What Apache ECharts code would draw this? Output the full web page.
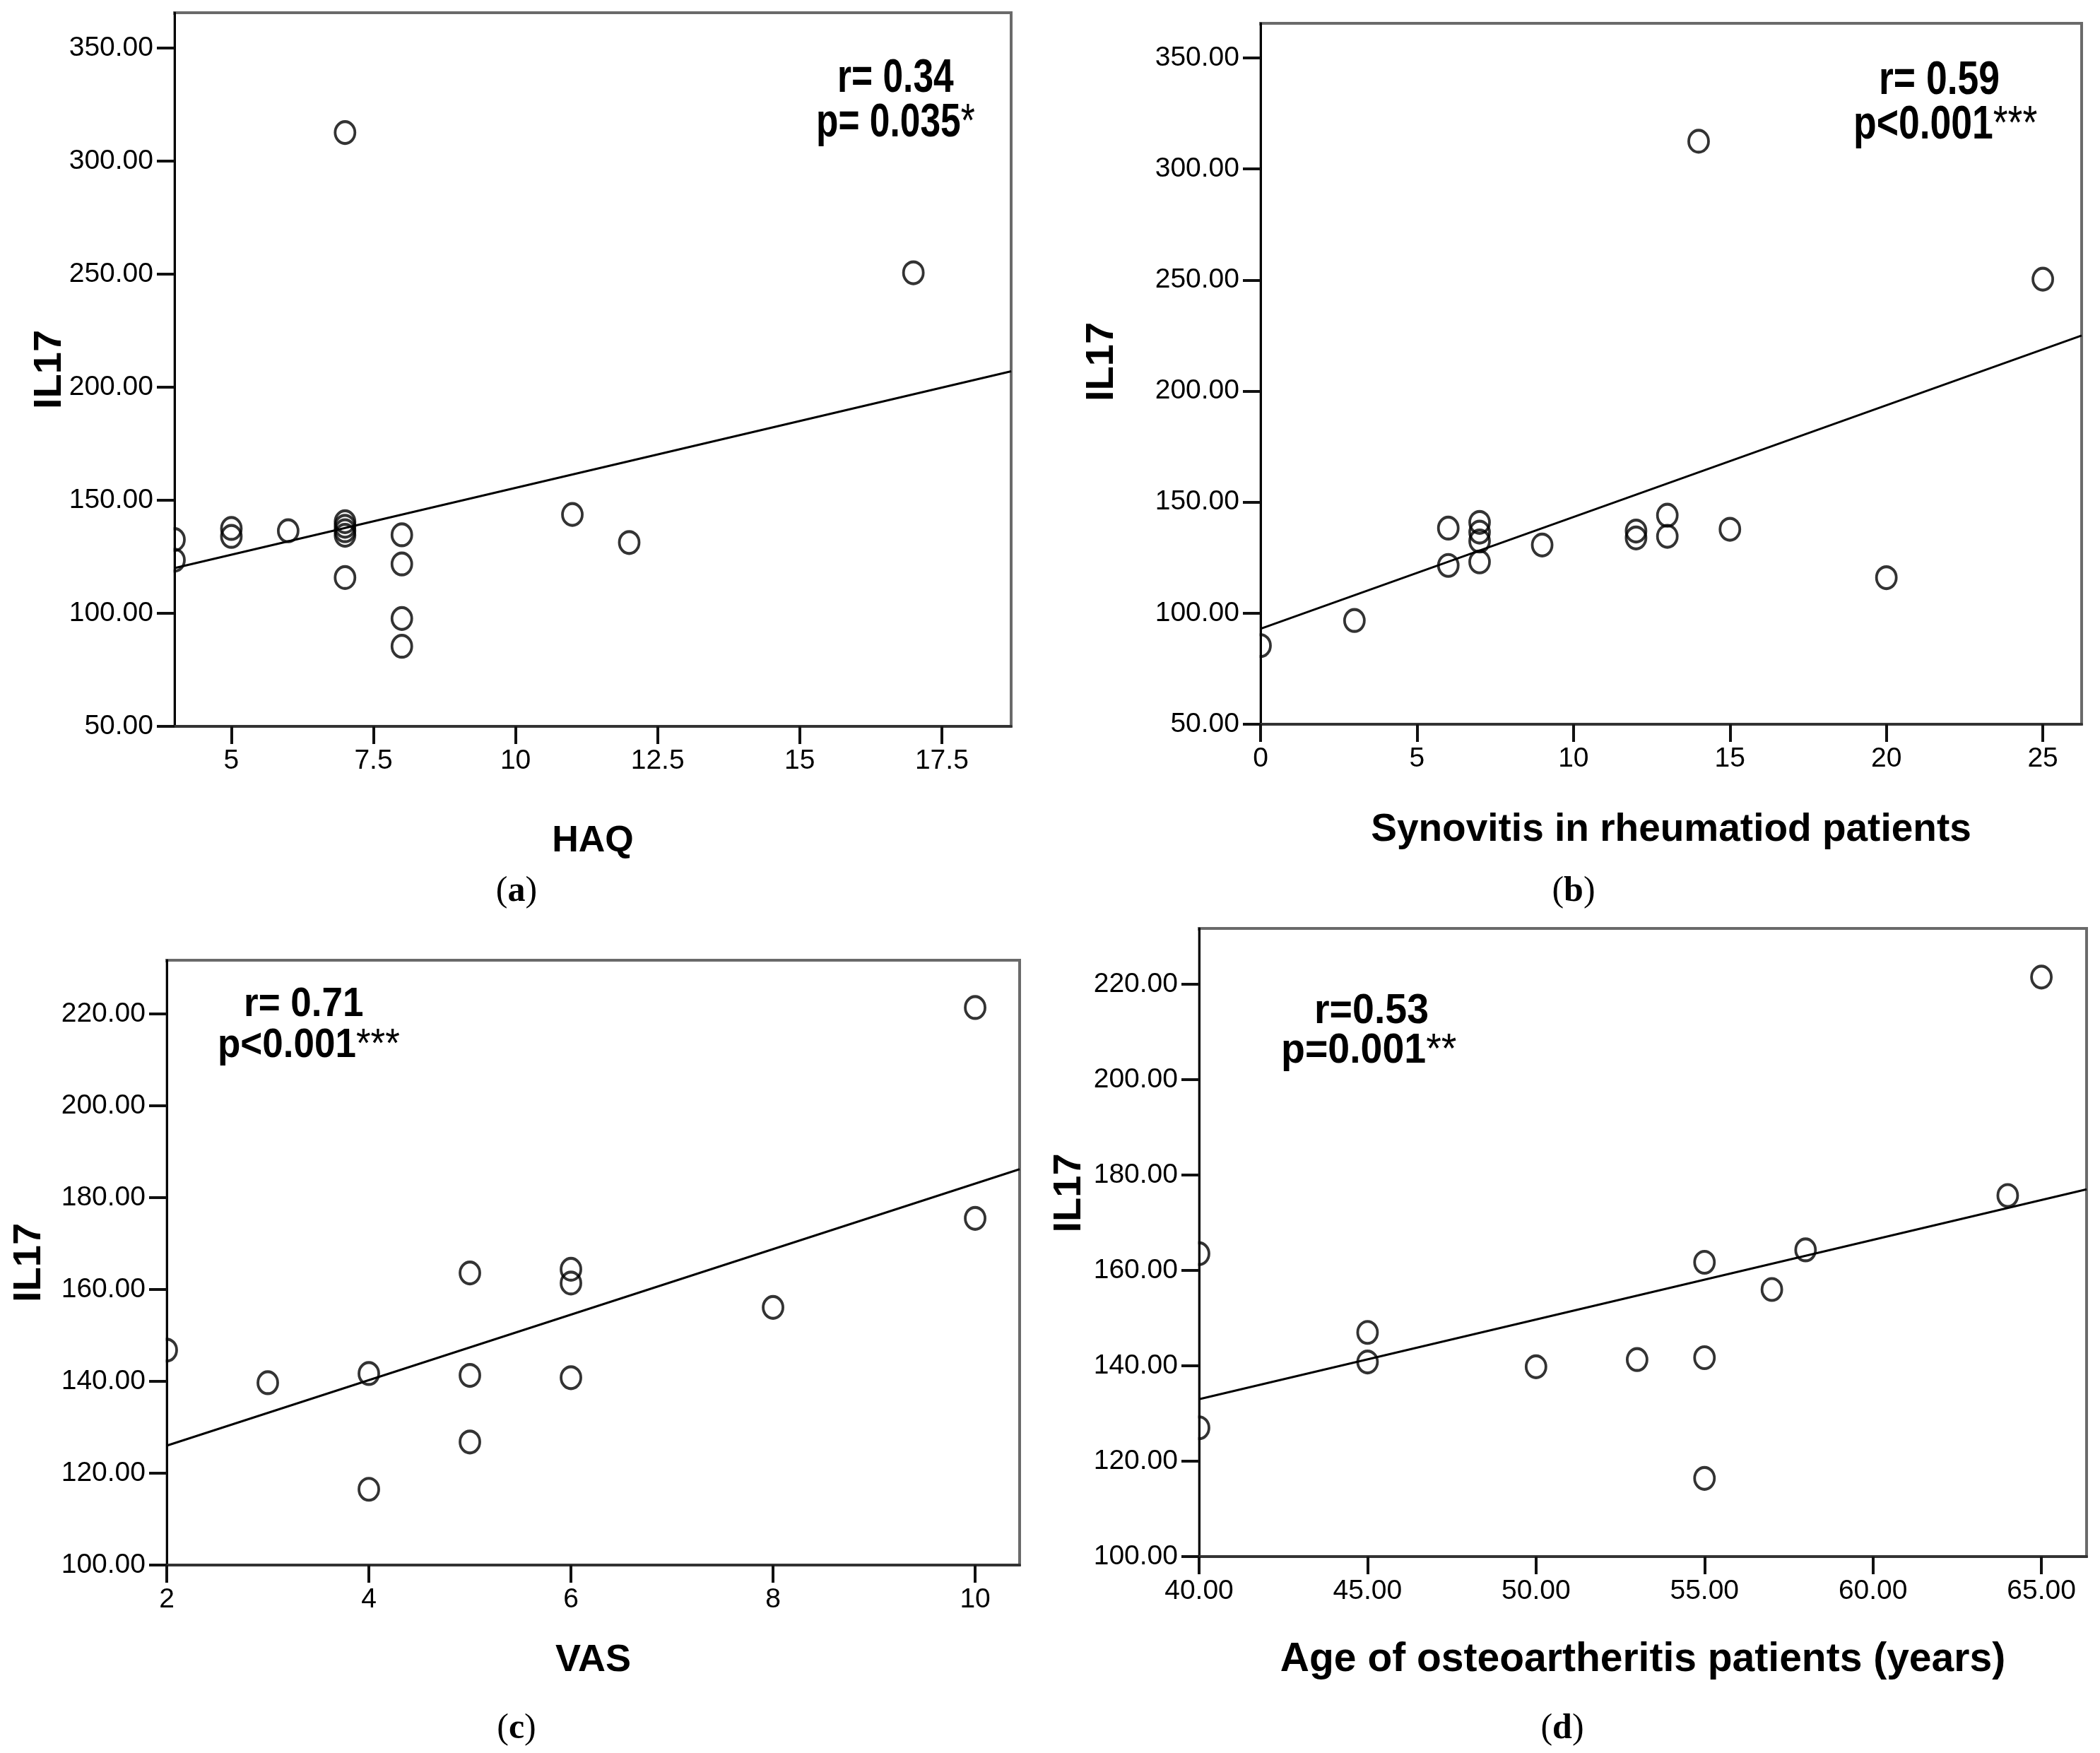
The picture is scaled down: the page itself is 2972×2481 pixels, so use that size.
<!DOCTYPE html>
<html>
<head>
<meta charset="utf-8">
<script src="https://cdn.jsdelivr.net/npm/echarts@6/dist/echarts.min.js"></script>
<style>
html,body{margin:0;padding:0;background:#ffffff;}
#chart{width:2972px;height:2481px;}
</style>
</head>
<body>
<div id="chart"></div>
<script>
// ---------- data ----------
// (a) HAQ vs IL17
const haqX = [4, 4, 5, 5, 6, 7, 7, 7, 7, 7, 7, 8, 8, 8, 8, 11, 12, 17];
const haqY = [132.6, 123.5, 137.5, 134.0, 136.5, 312.6, 140.5, 138.5, 136.5, 134.5, 115.8, 134.7, 121.8, 97.7, 85.4, 143.7, 131.3, 250.6];
const haqFit = [[4, 120.0], [18.72, 207.0]];
// (b) Synovitis vs IL17
const synX = [0, 3, 6, 6, 7, 7, 7, 7, 9, 12, 12, 13, 13, 14, 15, 20, 25];
const synY = [85.4, 96.7, 138.3, 121.5, 140.9, 136.5, 132.5, 123.1, 130.7, 137.0, 133.9, 144.1, 134.6, 312.5, 137.8, 116.0, 250.4];
const synFit = [[0, 93.0], [26.24, 225.0]];
// (c) VAS vs IL17
const vasX = [2, 3, 4, 4, 5, 5, 5, 6, 6, 6, 8, 10, 10];
const vasY = [146.8, 139.7, 141.7, 116.5, 163.6, 141.3, 126.8, 164.4, 161.4, 140.8, 156.1, 221.4, 175.5];
const vasFit = [[2, 126.0], [10.44, 186.2]];
// (d) Age vs IL17
const ageX = [40, 40, 45, 45, 50, 53, 55, 55, 55, 57, 58, 64, 65];
const ageY = [163.5, 127.0, 147.0, 140.8, 139.8, 141.3, 161.7, 141.7, 116.4, 156.0, 164.3, 175.7, 221.5];
const ageFit = [[40, 133.0], [66.34, 177.0]];

// axis ranges and ticks
const xRangeA = [4, 18.72], xRangeB = [0, 26.24], xRangeC = [2, 10.44], xRangeD = [40, 66.34];
const yRangeRA = [50, 365.6], yRangeOA = [100, 231.7];
const xTicksA = [5, 7.5, 10, 12.5, 15, 17.5];
const xTicksB = [0, 5, 10, 15, 20, 25];
const xTicksC = [2, 4, 6, 8, 10];
const xTicksD = [40, 45, 50, 55, 60, 65];
const yTicksRA = [50, 100, 150, 200, 250, 300, 350];
const yTicksOA = [100, 120, 140, 160, 180, 200, 220];

// texts
const xTitles = ['HAQ', 'Synovitis in rheumatiod patients', 'VAS', 'Age of osteoartheritis patients (years)'];
const yTitle = 'IL17';
const rTexts = ['r= 0.34', 'r= 0.59', 'r= 0.71', 'r=0.53'];
const pTexts = ['p= 0.035', 'p<0.001', 'p<0.001', 'p=0.001'];
const pStars = ['*', '***', '***', '**'];
const captions = ['a', 'b', 'c', 'd'];

// ---------- layout / style ----------
const SANS = "'Liberation Sans',Arial,Helvetica,sans-serif";
const SERIF = "'Liberation Serif','Times New Roman',serif";

const panels = [
  {g: [247, 18, 1184, 1010], x: haqX, y: haqY, fit: haqFit, xr: xRangeA, yr: yRangeRA, xt: xTicksA, yt: yTicksRA,
   xf: v => String(v), xNameSize: 52, xNameGap: 137, yNameGap: 148, yPad: 0,
   r: [1185, 112], p: [1155, 175], fs: 51.5, sy: 1.28, cap: [731, 1262]},
  {g: [1784, 33, 1162, 992], x: synX, y: synY, fit: synFit, xr: xRangeB, yr: yRangeRA, xt: xTicksB, yt: yTicksRA,
   xf: v => String(v), xNameSize: 55, xNameGap: 122, yNameGap: 196, yPad: 34,
   r: [2659, 114], p: [2623, 177], fs: 53.5, sy: 1.26, cap: [2227, 1262]},
  {g: [236, 1359, 1207, 856], x: vasX, y: vasY, fit: vasFit, xr: xRangeC, yr: yRangeOA, xt: xTicksC, yt: yTicksOA,
   xf: v => String(v), xNameSize: 54, xNameGap: 108, yNameGap: 166, yPad: 0,
   r: [345, 1422], p: [308, 1480], fs: 53, sy: 1.1, cap: [731, 2447]},
  {g: [1697, 1314, 1256, 889], x: ageX, y: ageY, fit: ageFit, xr: xRangeD, yr: yRangeOA, xt: xTicksD, yt: yTicksOA,
   xf: v => v.toFixed(2), xNameSize: 57, xNameGap: 118, yNameGap: 155, yPad: 140,
   r: [1860, 1432], p: [1813, 1488], fs: 55.5, sy: 1.06, cap: [2211, 2447]}
];

const option = {
  animation: false,
  backgroundColor: '#ffffff',
  grid: [], xAxis: [], yAxis: [], series: [], graphic: []
};

panels.forEach((p, i) => {
  option.grid.push({
    left: p.g[0], top: p.g[1], width: p.g[2], height: p.g[3],
    show: true, borderColor: '#6a6a6a', borderWidth: 4, backgroundColor: 'transparent',
    containLabel: false, outerBoundsMode: 'none'
  });
  option.xAxis.push({
    type: 'value', gridIndex: i, min: p.xr[0], max: p.xr[1], z: 10,
    name: xTitles[i], nameLocation: 'middle', nameGap: p.xNameGap, nameMoveOverlap: false,
    nameTextStyle: {fontFamily: SANS, fontWeight: 'bold', fontSize: p.xNameSize, color: '#000'},
    axisLine: {show: true, onZero: false, lineStyle: {color: '#333', width: 4}},
    axisTick: {show: true, inside: false, length: 25, lineStyle: {color: '#111', width: 4}, customValues: p.xt},
    axisLabel: {show: true, margin: 30, fontFamily: SANS, fontSize: 39, color: '#000', customValues: p.xt,
                formatter: p.xf, hideOverlap: false},
    splitLine: {show: false}
  });
  option.yAxis.push({
    type: 'value', gridIndex: i, min: p.yr[0], max: p.yr[1], z: 10,
    name: yTitle, nameLocation: 'middle', nameRotate: 90, nameGap: p.yNameGap, nameMoveOverlap: false,
    nameTextStyle: {fontFamily: SANS, fontWeight: 'bold', fontSize: 56, color: '#000', padding: [0, 0, 0, p.yPad]},
    axisLine: {show: true, onZero: false, lineStyle: {color: '#000', width: 3}},
    axisTick: {show: true, inside: false, length: 25, lineStyle: {color: '#111', width: 4}, customValues: p.yt},
    axisLabel: {show: true, margin: 30, fontFamily: SANS, fontSize: 39, color: '#000', customValues: p.yt,
                formatter: v => v.toFixed(2), hideOverlap: false},
    splitLine: {show: false}
  });
  option.series.push({
    type: 'line', xAxisIndex: i, yAxisIndex: i, data: p.fit,
    symbol: 'none', showSymbol: false, silent: true, z: 2,
    lineStyle: {color: '#000', width: 3}
  });
  option.series.push({
    type: 'scatter', xAxisIndex: i, yAxisIndex: i,
    data: p.x.map((v, k) => [v, p.y[k]]),
    symbol: 'circle', symbolSize: [28, 31], silent: true, z: 3,
    itemStyle: {color: 'rgba(255,255,255,0)', borderColor: '#000', borderWidth: 4}
  });
  // white strip left of the y axis so that points sitting on it look clipped
  option.graphic.push({
    type: 'rect', z: 5, silent: true,
    shape: {x: p.g[0] - 20, y: p.g[1] + 3, width: 18.5, height: p.g[3] - 3},
    style: {fill: '#ffffff'}
  });
  const rich = {
    m: {fontFamily: SANS, fontWeight: 'bold', fontSize: p.fs, color: '#000'},
    s: {fontFamily: SANS, fontWeight: 'normal', fontSize: p.fs, color: '#000'}
  };
  option.graphic.push({
    type: 'text', z: 20, silent: true, x: p.r[0], y: p.r[1], scaleY: p.sy,
    style: {text: '{m|' + rTexts[i] + '}', rich: rich, align: 'left', verticalAlign: 'middle',
            textAlign: 'left', textVerticalAlign: 'middle'}
  });
  option.graphic.push({
    type: 'text', z: 20, silent: true, x: p.p[0], y: p.p[1], scaleY: p.sy,
    style: {text: '{m|' + pTexts[i] + '}{s|' + pStars[i] + '}', rich: rich, align: 'left', verticalAlign: 'middle',
            textAlign: 'left', textVerticalAlign: 'middle'}
  });
  option.graphic.push({
    type: 'text', z: 20, silent: true, x: p.cap[0], y: p.cap[1],
    style: {text: '{n|(}{b|' + captions[i] + '}{n|)}',
            rich: {n: {fontFamily: SERIF, fontSize: 50, color: '#000'},
                   b: {fontFamily: SERIF, fontSize: 50, fontWeight: 'bold', color: '#000'}},
            align: 'center', verticalAlign: 'middle', textAlign: 'center', textVerticalAlign: 'middle'}
  });
});

const chart = echarts.init(document.getElementById('chart'), null, {renderer: 'canvas'});
chart.setOption(option);
</script>
</body>
</html>
